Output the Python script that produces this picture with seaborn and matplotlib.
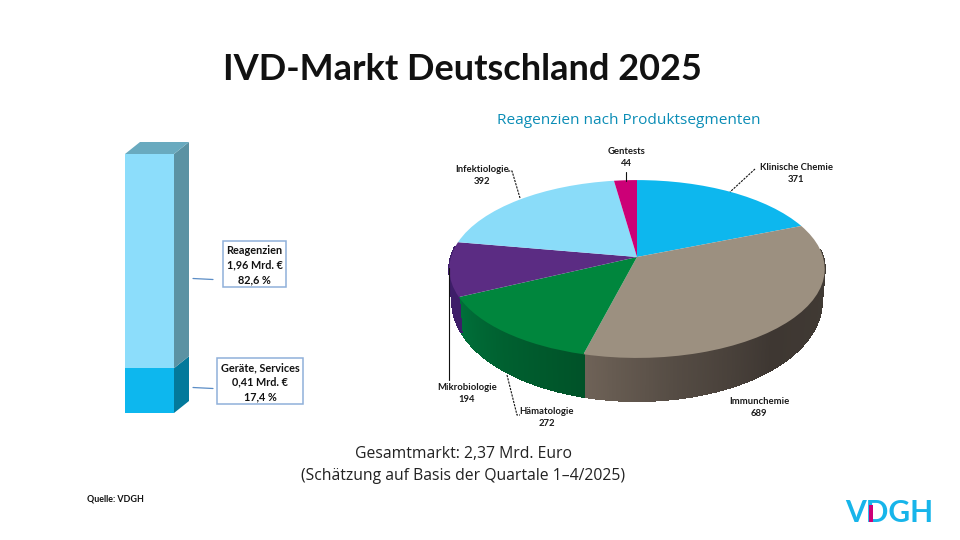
import numpy as np
import pandas as pd
import matplotlib
matplotlib.use("Agg")
import matplotlib.pyplot as plt
from matplotlib.patches import Rectangle
from matplotlib.transforms import Transform
import seaborn as sns

# ---- data ----
title = "IVD-Markt Deutschland 2025"
pie_title = "Reagenzien nach Produktsegmenten"
segments = ["Klinische Chemie", "Immunchemie", "Hämatologie", "Mikrobiologie", "Infektiologie", "Gentests"]
segment_values = [371, 689, 272, 194, 392, 44]
segment_colors = ["#0DB7EE", "#9C9080", "#00863D", "#5B2C83", "#8ADCF9", "#CC0077"]
market_parts = ["Geräte, Services", "Reagenzien"]
market_values = [0.41, 1.96]
market_share = ["17,4 %", "82,6 %"]
market_text = ["0,41 Mrd. €", "1,96 Mrd. €"]
total_lines = ["Gesamtmarkt: 2,37 Mrd. Euro", "(Schätzung auf Basis der Quartale 1–4/2025)"]
source = "Quelle: VDGH"

sns.set_theme(style="white")
FONT = ["Lato", "DejaVu Sans"]
WIDE = ["Open Sans", "DejaVu Sans"]
plt.rcParams["font.family"] = FONT
plt.rcParams["text.color"] = "#111111"

fig = plt.figure(figsize=(9.6, 5.4), dpi=100, facecolor="white")
ax = fig.add_axes([0, 0, 1, 1])

# ---- perspective pie ----
CX, CY, SX, SY, PA = 637.0, 257.0, 186.0, 87.3, 0.135


def project(x, y):
    w = 1 + PA * np.asarray(y)
    return CX + SX * np.asarray(x) / w, CY - SY * np.asarray(y) / w


class Persp(Transform):
    input_dims = output_dims = 2
    is_affine = False

    def transform_non_affine(self, values):
        values = np.asarray(values)
        X, Y = project(values[:, 0], values[:, 1])
        return np.column_stack([X, Y])


wedges, _ = ax.pie(segment_values, colors=segment_colors, startangle=90, counterclock=False,
                   wedgeprops=dict(linewidth=0))
ax.set_aspect("auto")
ax.set_xlim(0, 960)
ax.set_ylim(540, 0)
ax.axis("off")
persp = Persp() + ax.transData
for w in wedges:
    w.set_transform(persp)
    w.set_clip_on(False)
    w.set_zorder(5)

# side wall: (theta, rgb) colour stops per segment
side_stops = {
    "Immunchemie": [(85, (66, 60, 53)), (140, (62, 55, 50)), (170, (85, 76, 68)), (194, (110, 98, 87))],
    "Hämatologie": [(194, (0, 82, 40)), (220, (0, 96, 48)), (245, (0, 112, 58))],
    "Mikrobiologie": [(244, (62, 30, 105)), (285, (62, 30, 105))],
}
edges = np.cumsum([0] + segment_values) / sum(segment_values) * 360
for i, name in enumerate(segments):
    if name not in side_stops:
        continue
    a0, a1 = max(edges[i], 85), min(edges[i + 1], 277)
    ths = np.linspace(a0, a1, int((a1 - a0) * 2) + 2)
    st = side_stops[name]
    st_t = [s[0] for s in st]
    for t0, t1 in zip(ths[:-1], ths[1:]):
        t = np.radians([t0, t1])
        x, y = np.sin(t), np.cos(t)
        X, Y = project(x, y)
        depth = 30 + 13 * np.clip(-y, 0, 1)
        Xb = CX + 0.985 * (X - CX)
        Yb = Y + depth
        c = [np.interp((t0 + t1) / 2, st_t, [s[1][k] for s in st]) / 255 for k in range(3)]
        ax.fill([X[0], X[1], Xb[1], Xb[0]], [Y[0], Y[1], Yb[1], Yb[0]], color=c, lw=0.8,
                antialiased=False, zorder=3)

# ---- 3D stacked column ----
ax_bar = fig.add_axes([125 / 960, 1 - 413 / 540, 49 / 960, 259 / 540])
total = sum(market_values)
front_colors = ["#0DB7EE", "#8CDDFB"]
side_colors = ["#03799B", "#5B92A3"]
bottoms = np.cumsum([0] + market_values)
for k, part in enumerate(market_parts):
    df = pd.DataFrame({"teil": ["Markt"], "wert": [market_values[k]]})
    sns.barplot(data=df, x="teil", y="wert", color=front_colors[k], saturation=1, width=1,
                bottom=bottoms[k], ax=ax_bar, linewidth=0)
ax_bar.set_xlim(-0.5, 0.5)
ax_bar.set_ylim(0, total)
ax_bar.axis("off")
dx, dy = 15 / 49, 12 / 259 * total
for k in range(2):
    b, t = bottoms[k], bottoms[k + 1]
    ax_bar.fill([0.5, 0.5 + dx, 0.5 + dx, 0.5], [b, b + dy, t + dy, t], color=side_colors[k], lw=0, clip_on=False)
ax_bar.fill([-0.5, 0.5, 0.5 + dx, -0.5 + dx], [total, total, total + dy, total + dy], color="#69AABF", lw=0, clip_on=False)

# ---- callouts for column ----
BOX = "#8FB0DA"
TS = 7.8
boxes = [(217, 358, 86, 46, 388), (223, 241, 63, 46, 279)]
for k, (bx, by, bw, bh, ly) in enumerate(boxes):
    ax.add_patch(Rectangle((bx, by), bw, bh, fc="white", ec=BOX, lw=1.1, zorder=6))
    ax.plot([193, 213], [ly - 0.5, ly + 0.5], color="#5B8DC6", lw=0.9, zorder=6)
    cx = bx + bw / 2
    for j, s in enumerate([market_parts[k], market_text[k], market_share[k]]):
        ax.text(cx, by + 8.5 + 14.5 * j, s, ha="center", va="center_baseline",
                fontsize=TS, fontweight="bold", zorder=7)

# ---- pie labels ----
label_pos = [(796, 167), (759, 401), (547, 412), (467, 387), (482, 169), (626, 152)]
for (lx, ly), name, v in zip(label_pos, segments, segment_values):
    ax.text(lx, ly, name, ha="center", va="center", fontsize=6.8, fontweight="bold", zorder=7, color="#1a1a1a")
    ax.text(lx, ly + 12, str(v), ha="center", va="center", fontsize=6.8, fontweight="bold", zorder=7, color="#1a1a1a")

lk = dict(color="#111111", lw=0.8, zorder=7)
ax.plot([755, 730], [169, 192], ls=(0, (2, 1)), **lk)
ax.plot([626, 626], [172, 181], **lk)
ax.plot([508, 512, 520], [171, 171, 198], ls=(0, (2, 1)), **lk)
ax.plot([449, 449], [268, 380], **lk)
ax.plot([507, 517, 520], [375, 415, 415], ls=(0, (2, 1)), **lk)

# ---- titles and notes ----
ax.text(462, 67, title, ha="center", va="center_baseline", fontsize=26, fontweight="bold", color="#111111")
ax.text(628.5, 120, pie_title, ha="center", va="center", fontsize=11.1, color="#0B8DB6",
        family=WIDE, fontweight="medium")
ax.text(463.5, 454, total_lines[0], ha="center", va="center", fontsize=11.3, color="#222222", family=WIDE)
ax.text(463.5, 476, total_lines[1], ha="center", va="center", fontsize=11.3, color="#222222", family=WIDE)
ax.text(87, 499, source, ha="left", va="center", fontsize=6.4, fontweight="bold")

# ---- logo ----
ax.text(889, 510, "VDGH", ha="center", va="center_baseline", fontsize=21.5, color="#17B5EA",
        family=FONT, fontweight="bold")
ax.add_patch(Rectangle((869, 505), 4, 17, fc="#CC0077", ec="none", zorder=8))

fig.savefig("out.png", dpi=100, facecolor="white")
